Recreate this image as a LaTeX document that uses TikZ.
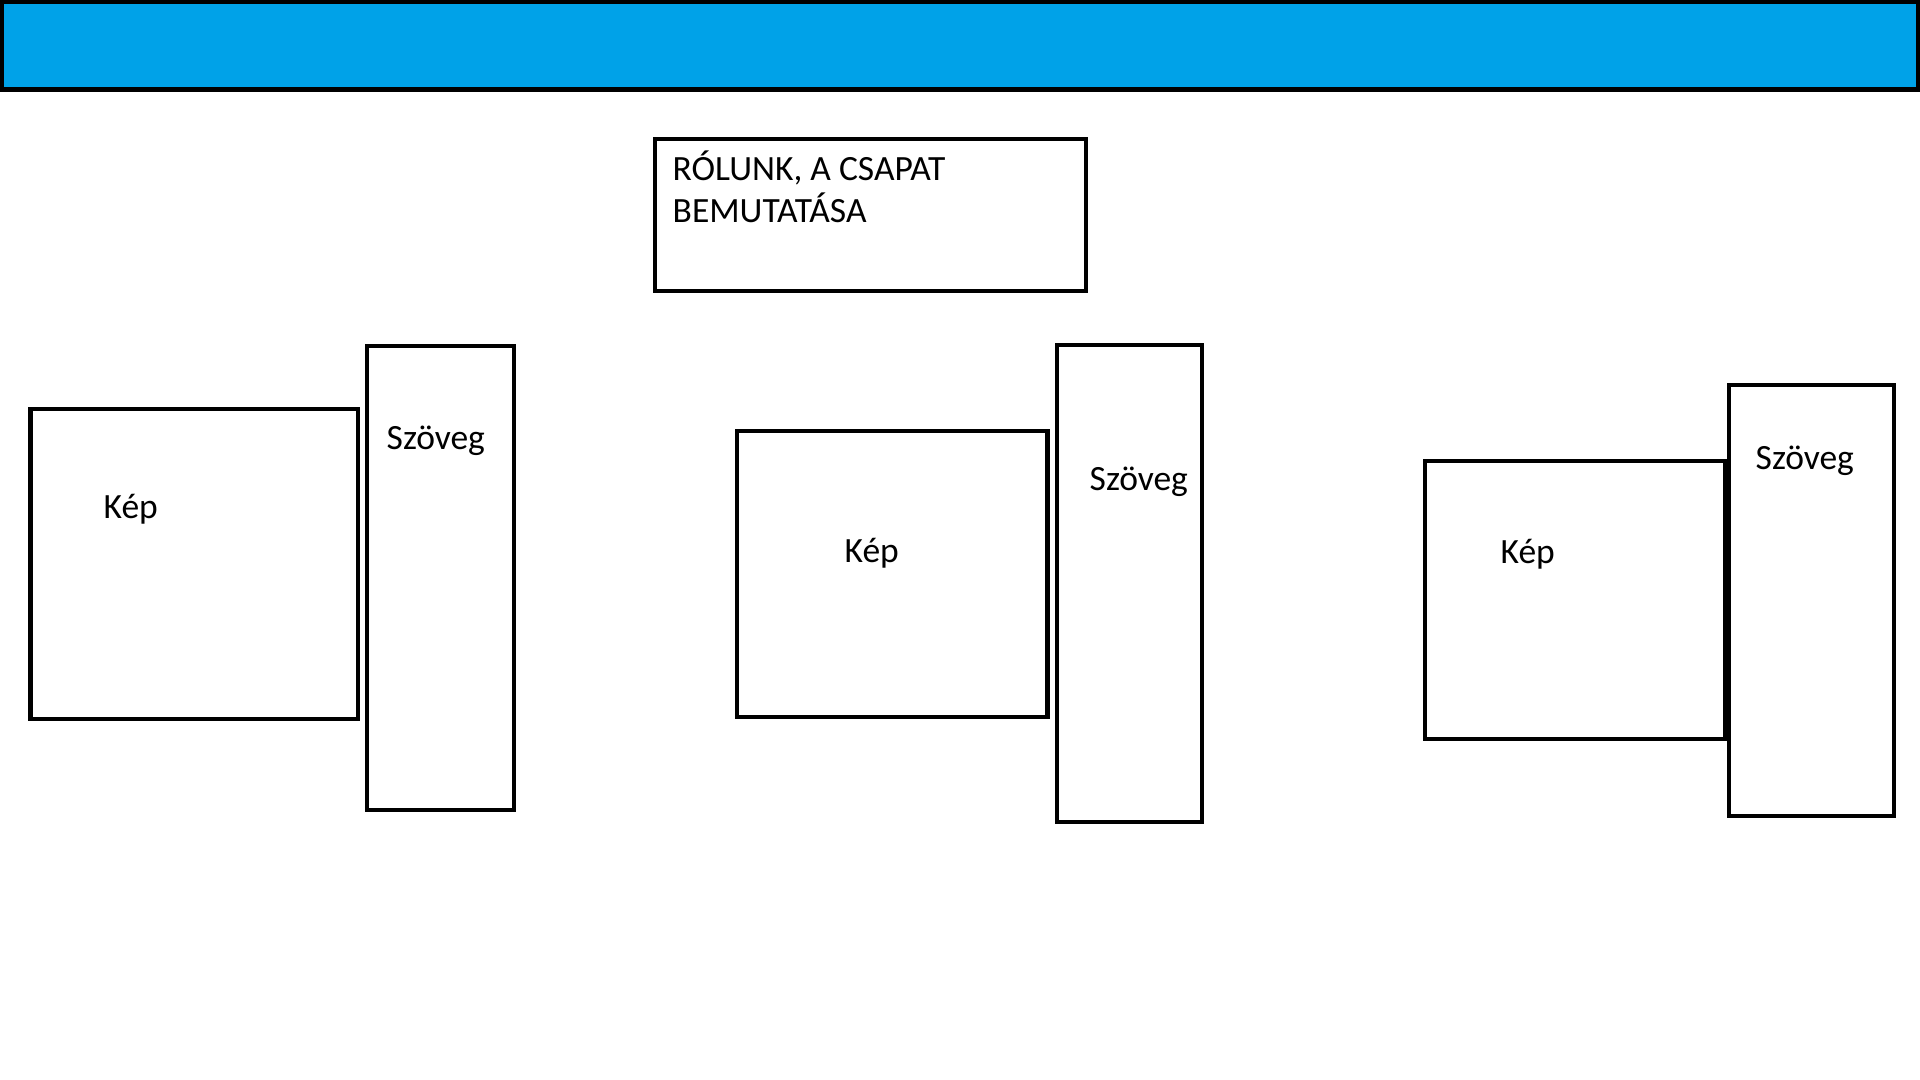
\documentclass[tikz,border=0pt]{standalone}
\usepackage{fontspec}
\setmainfont{Carlito}
\definecolor{kek}{RGB}{0,162,232}

\begin{document}
\begin{tikzpicture}[x=0.01cm, y=-0.01cm]
  \tikzstyle{doboz} = [rectangle, draw, line width=1.15pt, inner sep=0pt, outer sep=0pt]
  \tikzstyle{felirat} = [anchor=base west, inner sep=0pt, align=left,
                                    font=\fontsize{10.1}{12}\selectfont]
\useasboundingbox (0,0) rectangle (1920,1080);
\node[doboz, fill=kek, line width=1.3pt, minimum width=19.15cm, minimum height=0.875cm] (fejlec) at (960,45.75) {};
\node[doboz, minimum width=4.305cm, minimum height=1.52cm] (cim) at (870.25,215) {};
\node[felirat] (cimszoveg) at (672,223) {RÓLUNK, A CSAPAT\\BEMUTATÁSA};
\node[doboz, minimum width=3.27cm, minimum height=3.10cm] (kep1) at (194.1,563.9) {};
\node[doboz, minimum width=1.47cm, minimum height=4.63cm] (szov1) at (440.5,578) {};
\node[doboz, minimum width=3.10cm, minimum height=2.86cm] (kep2) at (892.4,574.4) {};
\node[doboz, minimum width=1.44cm, minimum height=4.77cm] (szov2) at (1129.5,583.5) {};
\node[doboz, minimum width=3.00cm, minimum height=2.78cm] (kep3) at (1575.2,600) {};
\node[doboz, minimum width=1.645cm, minimum height=4.30cm] (szov3) at (1811.3,600.5) {};
\node[felirat] (kep1t) at (103,519) {Kép};
\node[felirat] (szov1t) at (386,450) {Szöveg};
\node[felirat] (kep2t) at (844,563) {Kép};
\node[felirat] (szov2t) at (1089,491) {Szöveg};
\node[felirat] (kep3t) at (1500,564) {Kép};
\node[felirat] (szov3t) at (1755,470) {Szöveg};
\end{tikzpicture}
\end{document}
